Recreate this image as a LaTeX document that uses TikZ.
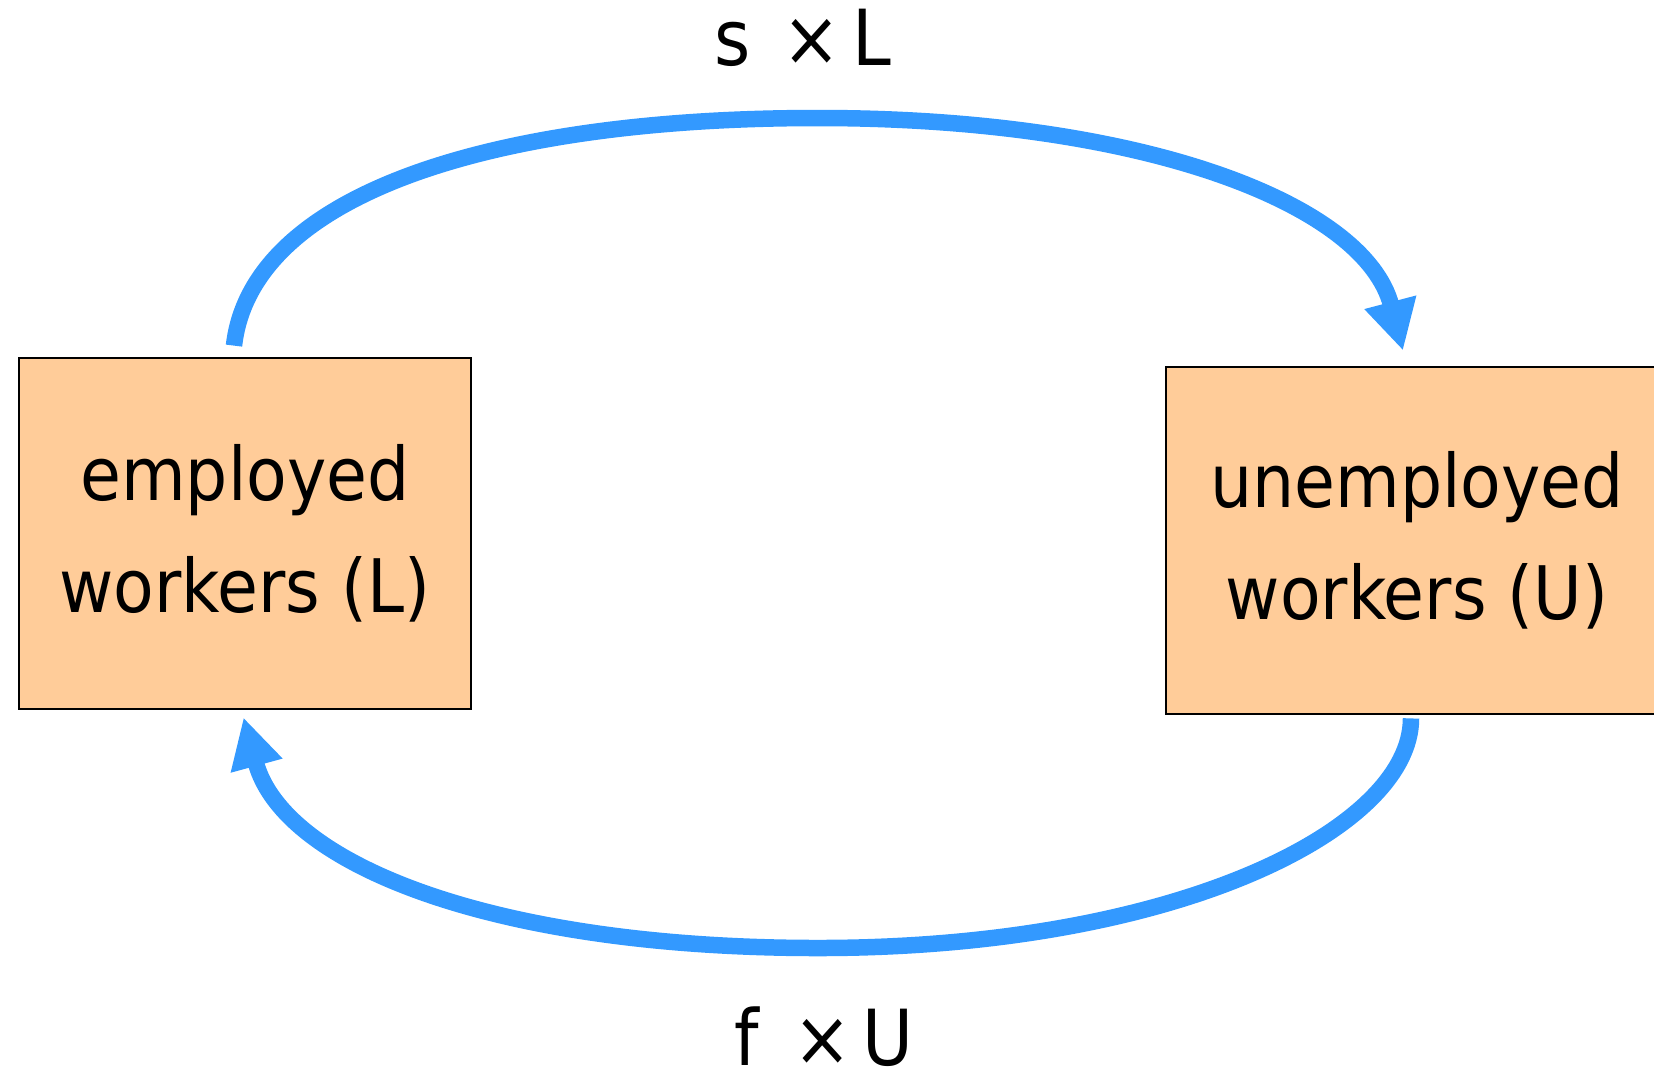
\documentclass[tikz,border=0pt]{standalone}
\usepackage{fontspec}
\setmainfont{DejaVu Sans Condensed}
\usepackage{tikz}
\usetikzlibrary{arrows.meta}
\definecolor{flowblue}{RGB}{51, 153, 255}
\definecolor{boxpeach}{RGB}{255, 204, 153}
\tikzset{
    pool/.style ={draw=black, line width=0.8pt, fill=boxpeach,
                  minimum height=3.51cm, align=center, inner sep=0pt,
                  font=\fontsize{21}{32}\selectfont},
    flow/.style ={-{Triangle[length=5mm, width=5mm]}, line width=1.65mm, draw=flowblue},
    lbl/.style  ={font=\fontsize{22}{32}\selectfont, inner sep=0pt, anchor=base}
}

\begin{document}
\begin{tikzpicture}[x=1cm, y=1cm]
  \clip (0,0) rectangle (16.54,-10.70);

  % the two stocks of workers
  \node[pool, minimum width=4.52cm] (emp) at (2.45,-5.335)
       {employed\\workers (L)};
  \node[pool, minimum width=5.02cm, minimum height=3.47cm] (unemp) at (14.17,-5.405)
       {unemployed\\workers (U)};

  % separations, over the top
  \coordinate (toppeak) at (8.18,-1.18);
  \draw[flow] ([shift={(-0.11,0.11)}]emp.north)
       .. controls +(0.17,1.5) and +(-3.30,0) .. (toppeak)
       .. controls +(3.30,0) and +(-0.38,1.45) .. ([shift={(-0.14,0.15)}]unemp.north);
  \node[lbl] (sepl) at (8.03,-0.65) {s \hspace{0.09cm}×\hspace{0.12cm}L};

  % job finding, along the bottom
  \coordinate (botpeak) at (8.18,-9.48);
  \draw[flow] ([shift={(-0.06,-0.03)}]unemp.south)
       .. controls +(0,-1.1) and +(3.6,0) .. (botpeak)
       .. controls +(-3.3,0) and +(0.395,-1.45) .. ([shift={(-0.015,-0.07)}]emp.south);
  \node[lbl] (finl) at (8.24,-10.65) {f \hspace{0.12cm}×\hspace{0.11cm}U};
\end{tikzpicture}
\end{document}
